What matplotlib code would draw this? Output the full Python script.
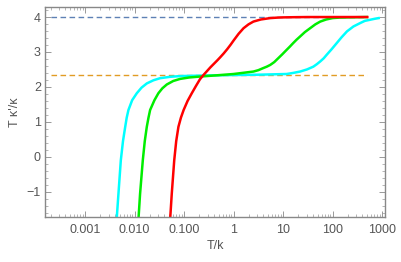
import numpy as np
import matplotlib
matplotlib.use('Agg')
import matplotlib.pyplot as plt
from matplotlib.ticker import FixedLocator, FixedFormatter, MultipleLocator, LogLocator, NullFormatter

# values (log10 of T/k, T kappa'/kappa)
red_logT = [-1.28, -1.25, -1.20, -1.16, -1.115, -1.065, -1.01, -0.93, -0.845, -0.76,
            -0.68, -0.61, -0.54, -0.47, -0.40, -0.33, -0.27, -0.20, -0.13, -0.06,
            0.0, 0.1, 0.2, 0.3, 0.4, 0.55, 0.74, 0.9, 1.0, 1.2, 1.5, 2.0, 2.7]
red_val = [-1.73, -1.06, -0.10, 0.45, 0.86, 1.12, 1.34, 1.60, 1.82, 2.03,
           2.22, 2.34, 2.45, 2.56, 2.66, 2.76, 2.85, 2.96, 3.08, 3.21,
           3.33, 3.52, 3.68, 3.79, 3.87, 3.93, 3.97, 3.985, 3.99, 3.995, 4.0, 4.0, 4.0]

green_logT = [-1.92, -1.89, -1.835, -1.795, -1.754, -1.72, -1.687, -1.60, -1.52, -1.44,
              -1.35, -1.22, -1.08, -0.90, -0.74, -0.27, 0.0, 0.40, 0.50, 0.60,
              0.67, 0.74, 0.82, 0.90, 0.98, 1.07, 1.14, 1.20, 1.27, 1.34,
              1.44, 1.545, 1.65, 1.75, 1.87, 2.0, 2.15, 2.3, 2.69]
green_val = [-1.73, -1.06, -0.10, 0.45, 0.86, 1.12, 1.34, 1.62, 1.82, 1.96,
             2.07, 2.17, 2.23, 2.27, 2.29, 2.34, 2.37, 2.44, 2.48, 2.54,
             2.58, 2.63, 2.71, 2.82, 2.93, 3.06, 3.16, 3.25, 3.35, 3.44,
             3.57, 3.68, 3.79, 3.87, 3.93, 3.97, 3.985, 3.99, 4.0]

cyan_logT = [-2.36, -2.327, -2.279, -2.235, -2.19, -2.16, -2.125, -2.05, -1.956, -1.86,
             -1.754, -1.62, -1.485, -1.28, -1.08, -0.5, 0.0, 0.5, 1.07, 1.2,
             1.343, 1.48, 1.61, 1.68, 1.75, 1.82, 1.88, 1.98, 2.08, 2.18,
             2.29, 2.42, 2.56, 2.65, 2.75, 2.85, 2.93]
cyan_val = [-1.73, -1.06, -0.10, 0.45, 0.86, 1.12, 1.34, 1.62, 1.82, 1.98,
            2.10, 2.19, 2.25, 2.29, 2.31, 2.33, 2.34, 2.35, 2.37, 2.40,
            2.44, 2.50, 2.58, 2.65, 2.73, 2.82, 2.92, 3.08, 3.25, 3.42,
            3.59, 3.73, 3.83, 3.89, 3.92, 3.95, 3.97]

high_limit = 4.0
low_limit = 7 / 3
dash_range = [2e-4, 500]

xticks = [0.001, 0.01, 0.1, 1, 10, 100, 1000]
xticklabels = ['0.001', '0.010', '0.100', '1', '10', '100', '1000']

grey = '#555555'
plt.rcParams['font.family'] = ['Liberation Sans', 'DejaVu Sans']

fig = plt.figure(figsize=(4.02, 2.62), dpi=100)
ax = fig.add_axes([0.112, 0.172, 0.846, 0.803])

ax.plot(dash_range, [high_limit, high_limit], ls=(0, (4, 2.5)), color='#5e81b5', lw=1.0)
ax.plot(dash_range, [low_limit, low_limit], ls=(0, (4, 2.5)), color='#e19c24', lw=1.0)

ax.plot(10 ** np.array(cyan_logT), cyan_val, color='#00ffff', lw=1.8)
ax.plot(10 ** np.array(green_logT), green_val, color='#00ee00', lw=1.8)
ax.plot(10 ** np.array(red_logT), red_val, color='#ff0000', lw=1.8)

ax.set_xscale('log')
ax.set_xlim(10 ** -3.81, 10 ** 3.06)
ax.set_ylim(-1.72, 4.3)

ax.xaxis.set_major_locator(FixedLocator(xticks))
ax.xaxis.set_major_formatter(FixedFormatter(xticklabels))
ax.xaxis.set_minor_locator(LogLocator(base=10, subs=np.arange(2, 10)))
ax.xaxis.set_minor_formatter(NullFormatter())
ax.yaxis.set_major_locator(MultipleLocator(1))
ax.yaxis.set_minor_locator(MultipleLocator(0.2))

ax.tick_params(which='both', direction='in', top=True, right=True, colors='#999999',
               labelcolor=grey, labelsize=9)
ax.tick_params(which='major', length=4, width=0.7)
ax.tick_params(which='minor', length=2, width=0.5)
ax.tick_params(axis='x', pad=5)
ax.tick_params(axis='y', pad=3)
for s in ax.spines.values():
    s.set_color('#888888')
    s.set_linewidth(1.0)

ax.set_xlabel('T/k', color=grey, fontsize=9, labelpad=3)
ax.set_ylabel("T κ'/κ", color=grey, fontsize=9, labelpad=4)

fig.savefig('out.png', dpi=100)
